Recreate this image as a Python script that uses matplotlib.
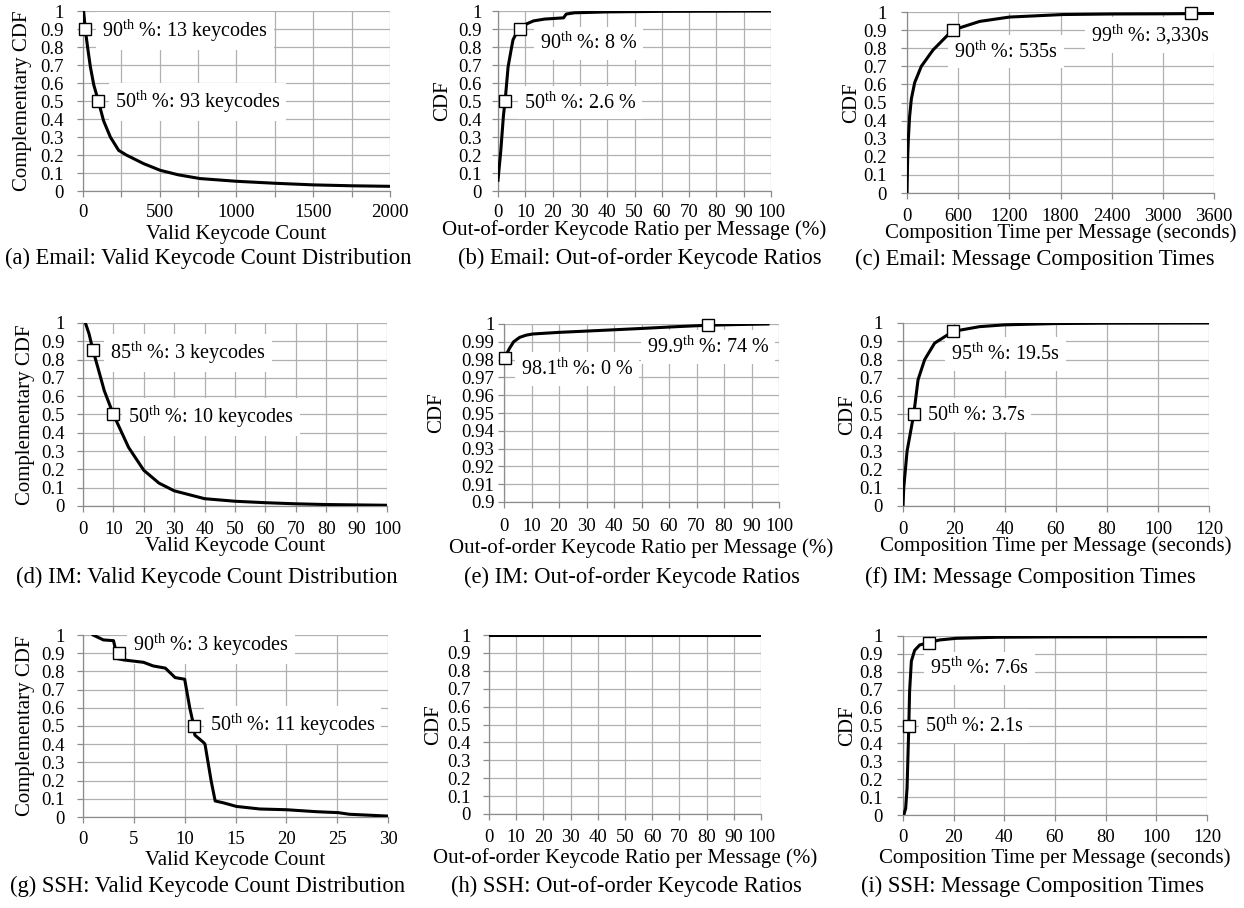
import numpy as np
import matplotlib
matplotlib.use("Agg")
import matplotlib.pyplot as plt
from matplotlib.ticker import MultipleLocator, FuncFormatter

plt.rcParams["font.family"] = "Liberation Serif"
plt.rcParams["mathtext.fontset"] = "custom"
plt.rcParams["mathtext.rm"] = "Liberation Serif"
plt.rcParams["mathtext.it"] = "Liberation Serif:italic"

FIG_W, FIG_H = 1244, 908
GRID_COLOR = "#b0b0b0"

# (a) Email: valid keycode count, complementary CDF
email_count_x = [4, 15, 22, 33, 48, 70, 100, 134, 178, 232, 282, 395, 503, 620, 763, 1000, 1250, 1500, 1750, 2000]
email_count_y = [1.0, 0.9, 0.85, 0.78, 0.69, 0.59, 0.5, 0.39, 0.3, 0.226, 0.2, 0.152, 0.115, 0.09, 0.069, 0.054, 0.043, 0.034, 0.029, 0.026]
email_count_mark_x = [15, 100]
email_count_mark_y = [0.9, 0.5]

# (b) Email: out-of-order keycode ratio CDF
email_ratio_x = [0, 1, 2, 2.6, 3.7, 5, 5.5, 6.5, 8.2, 10, 13, 17, 24, 25, 28, 40, 60, 100]
email_ratio_y = [0.06, 0.22, 0.42, 0.5, 0.69, 0.8, 0.84, 0.87, 0.9, 0.925, 0.945, 0.955, 0.962, 0.983, 0.99, 0.995, 0.998, 1.0]
email_ratio_mark_x = [2.6, 8.2]
email_ratio_mark_y = [0.5, 0.9]

# (c) Email: composition time CDF
email_time_x = [0, 4, 8, 16, 30, 51, 90, 168, 305, 535, 852, 1200, 1830, 2400, 3000, 3330, 3600]
email_time_y = [0, 0.1, 0.2, 0.3, 0.42, 0.52, 0.61, 0.7, 0.79, 0.9, 0.948, 0.972, 0.986, 0.989, 0.99, 0.991, 0.992]
email_time_mark_x = [535, 3330]
email_time_mark_y = [0.9, 0.992]

# (d) IM: valid keycode count, complementary CDF
im_count_x = [0.8, 2, 3.3, 5, 7, 10, 15, 20, 25, 30, 40, 50, 60, 70, 80, 90, 100]
im_count_y = [1.0, 0.94, 0.85, 0.75, 0.63, 0.5, 0.32, 0.195, 0.125, 0.083, 0.04, 0.026, 0.018, 0.012, 0.008, 0.006, 0.004]
im_count_mark_x = [3.3, 10]
im_count_mark_y = [0.85, 0.5]

# (e) IM: out-of-order keycode ratio CDF
im_ratio_x = [0.2, 2, 3.5, 5.7, 8, 10.5, 20, 38, 50, 62.7, 74, 85, 96]
im_ratio_y = [0.981, 0.9863, 0.99, 0.9925, 0.9937, 0.9944, 0.9953, 0.9966, 0.9975, 0.9985, 0.9993, 0.9997, 1.0]
im_ratio_mark_x = [0.2, 74]
im_ratio_mark_y = [0.981, 0.9995]

# (f) IM: composition time CDF
im_time_x = [0, 0.3, 1.6, 4.2, 5.9, 8.5, 12.4, 19.6, 30, 40, 60, 80, 120]
im_time_y = [0, 0.1, 0.3, 0.5, 0.69, 0.8, 0.89, 0.954, 0.98, 0.99, 0.997, 0.999, 1.0]
im_time_mark_x = [4.2, 19.6]
im_time_mark_y = [0.5, 0.954]

# (g) SSH: valid keycode count, complementary CDF
ssh_count_x = [1.0, 2.0, 3.0, 3.4, 4.0, 5.95, 6.9, 8.1, 9.06, 10.0, 10.5, 10.9, 11.0, 11.85, 12.0, 12.3, 12.6, 13.0, 13.8, 15.1, 17.4, 20.0, 23.0, 25.1, 26.2, 30.0]
ssh_count_y = [1.0, 0.973, 0.969, 0.87, 0.863, 0.85, 0.83, 0.818, 0.766, 0.757, 0.6, 0.5, 0.45, 0.41, 0.4, 0.3, 0.2, 0.088, 0.078, 0.058, 0.044, 0.04, 0.029, 0.024, 0.015, 0.005]
ssh_count_mark_x = [3.56, 10.9]
ssh_count_mark_y = [0.9, 0.5]

# (h) SSH: out-of-order keycode ratio CDF
ssh_ratio_x = [0, 100]
ssh_ratio_y = [1.0, 1.0]

# (i) SSH: composition time CDF
ssh_time_x = [0.3, 1.05, 1.6, 2.3, 2.6, 3.3, 4.6, 6.6, 10.2, 14.5, 21, 37, 60, 120]
ssh_time_y = [0.0, 0.037, 0.15, 0.5, 0.69, 0.86, 0.92, 0.95, 0.963, 0.978, 0.987, 0.993, 0.995, 0.996]
ssh_time_mark_x = [2.3, 10.2]
ssh_time_mark_y = [0.5, 0.963]

captions = [
    "(a) Email: Valid Keycode Count Distribution",
    "(b) Email: Out-of-order Keycode Ratios",
    "(c) Email: Message Composition Times",
    "(d) IM: Valid Keycode Count Distribution",
    "(e) IM: Out-of-order Keycode Ratios",
    "(f) IM: Message Composition Times",
    "(g) SSH: Valid Keycode Count Distribution",
    "(h) SSH: Out-of-order Keycode Ratios",
    "(i) SSH: Message Composition Times",
]

TH = r"$^{\mathrm{th}}$"

panels = [
    dict(box=(83, 11, 390, 191), x=email_count_x, y=email_count_y,
         mx=email_count_mark_x, my=email_count_mark_y,
         notes=[(f"90{TH} %: 13 keycodes", 0.062, 0.89), (f"50{TH} %: 93 keycodes", 0.104, 0.494)],
         xlim=2000, xmajor=500, xminor=250, ylim=(0, 1), ystep=0.1,
         ylabel="Complementary CDF", xlabel="Valid Keycode Count",
         ylab_dx=61, xlab_dy=44, tick_dy=22, ygap=18, cap=(208, 258)),
    dict(box=(498, 11, 771, 191), x=email_ratio_x, y=email_ratio_y,
         mx=email_ratio_mark_x, my=email_ratio_mark_y,
         notes=[(f"90{TH} %: 8 %", 0.154, 0.82), (f"50{TH} %: 2.6 %", 0.095, 0.49)],
         xlim=100, xmajor=10, xminor=10, ylim=(0, 1), ystep=0.1,
         ylabel="CDF", xlabel="Out-of-order Keycode Ratio per Message (%)",
         ylab_dx=55, xlab_dy=39, tick_dy=22, ygap=15, cap=(640, 258)),
    dict(box=(907, 12, 1214, 193), x=email_time_x, y=email_time_y,
         mx=email_time_mark_x, my=email_time_mark_y,
         notes=[(f"90{TH} %: 535s", 0.153, 0.78), (f"99{TH} %: 3,330s", 0.60, 0.873)],
         xlim=3600, xmajor=600, xminor=600, ylim=(0, 1), ystep=0.1,
         ylabel="CDF", xlabel="Composition Time per Message (seconds)",
         ylab_dx=55, xlab_dy=40, tick_dy=24, ygap=19, cap=(1035, 259)),
    dict(box=(83, 323, 387, 506), x=im_count_x, y=im_count_y,
         mx=im_count_mark_x, my=im_count_mark_y,
         notes=[(f"85{TH} %: 3 keycodes", 0.089, 0.836), (f"50{TH} %: 10 keycodes", 0.148, 0.486)],
         xlim=100, xmajor=10, xminor=10, ylim=(0, 1), ystep=0.1,
         ylabel="Complementary CDF", xlabel="Valid Keycode Count",
         ylab_dx=57, xlab_dy=40, tick_dy=24, ygap=17, cap=(207, 577)),
    dict(box=(504, 324, 779, 502), x=im_ratio_x, y=im_ratio_y,
         mx=im_ratio_mark_x, my=im_ratio_mark_y,
         notes=[(f"99.9{TH} %: 74 %", 0.52, 0.87), (f"98.1{TH} %: 0 %", 0.062, 0.747)],
         xlim=100, xmajor=10, xminor=10, ylim=(0.9, 1), ystep=0.01,
         ylabel="CDF", xlabel="Out-of-order Keycode Ratio per Message (%)",
         ylab_dx=67, xlab_dy=46, tick_dy=25, ygap=8, cap=(632, 577)),
    dict(box=(903, 323, 1209, 506), x=im_time_x, y=im_time_y,
         mx=im_time_mark_x, my=im_time_mark_y,
         notes=[(f"95{TH} %: 19.5s", 0.157, 0.83), (f"50{TH} %: 3.7s", 0.078, 0.497)],
         xlim=120, xmajor=20, xminor=20, ylim=(0, 1), ystep=0.1,
         ylabel="CDF", xlabel="Composition Time per Message (seconds)",
         ylab_dx=55, xlab_dy=40, tick_dy=24, ygap=19, cap=(1030, 577)),
    dict(box=(83, 635, 388, 817), x=ssh_count_x, y=ssh_count_y,
         mx=ssh_count_mark_x, my=ssh_count_mark_y,
         notes=[(f"90{TH} %: 3 keycodes", 0.164, 0.945), (f"50{TH} %: 11 keycodes", 0.416, 0.505)],
         xlim=30, xmajor=5, xminor=5, ylim=(0, 1), ystep=0.1,
         ylabel="Complementary CDF", xlabel="Valid Keycode Count",
         ylab_dx=57, xlab_dy=43, tick_dy=23, ygap=17, cap=(208, 886)),
    dict(box=(489, 635, 761, 814), x=ssh_ratio_x, y=ssh_ratio_y,
         mx=[], my=[], notes=[],
         xlim=100, xmajor=10, xminor=10, ylim=(0, 1), ystep=0.1,
         ylabel="CDF", xlabel="Out-of-order Keycode Ratio per Message (%)",
         ylab_dx=55, xlab_dy=44, tick_dy=24, ygap=17, cap=(626, 886)),
    dict(box=(903, 636, 1207, 815), x=ssh_time_x, y=ssh_time_y,
         mx=ssh_time_mark_x, my=ssh_time_mark_y,
         notes=[(f"95{TH} %: 7.6s", 0.089, 0.82), (f"50{TH} %: 2.1s", 0.072, 0.497)],
         xlim=120, xmajor=20, xminor=20, ylim=(0, 1), ystep=0.1,
         ylabel="CDF", xlabel="Composition Time per Message (seconds)",
         ylab_dx=55, xlab_dy=43, tick_dy=23, ygap=19, cap=(1033, 886)),
]


def y_fmt(v, pos):
    return f"{round(v, 4):g}"


def draw_panel(fig, p, caption):
    left, top, right, bottom = p["box"]
    w, h = right - left, bottom - top
    ax = fig.add_axes([left / FIG_W, 1 - bottom / FIG_H, w / FIG_W, h / FIG_H])

    ax.plot(p["x"], p["y"], color="black", lw=2.2, solid_joinstyle="round", zorder=3)
    if p["mx"]:
        ax.plot(p["mx"], p["my"], ls="none", marker="s", ms=9, mfc="white",
                mec="black", mew=1.0, zorder=5, clip_on=False)

    # white label boxes sit over the grid but under the curve
    for text, tx, ty in p["notes"]:
        ax.text(tx, ty, text, transform=ax.transAxes, fontsize=14.5,
                ha="left", va="center", zorder=2.5,
                bbox=dict(boxstyle="square,pad=0.3", fc="white", ec="none"))

    ax.set_xlim(0, p["xlim"])
    ax.set_ylim(*p["ylim"])
    ax.xaxis.set_major_locator(MultipleLocator(p["xmajor"]))
    ax.xaxis.set_minor_locator(MultipleLocator(p["xminor"]))
    ax.yaxis.set_major_locator(MultipleLocator(p["ystep"]))
    ax.yaxis.set_major_formatter(FuncFormatter(y_fmt))

    ax.grid(True, which="both", color=GRID_COLOR, lw=0.9, zorder=0)
    ax.set_axisbelow(True)
    for side in ["top", "right"]:
        ax.spines[side].set_visible(False)
    for side in ["left", "bottom"]:
        ax.spines[side].set_color("#8c8c8c")
        ax.spines[side].set_linewidth(0.9)

    ax.tick_params(axis="both", which="both", direction="out", length=4,
                   color="#8c8c8c", width=0.9, labelsize=13.5)
    ax.tick_params(axis="y", pad=(p["ygap"] - 4) * 0.72)
    ax.tick_params(axis="x", pad=(p["tick_dy"] - 10) * 0.72 - 3)

    ax.set_ylabel(p["ylabel"], fontsize=15)
    ax.yaxis.set_label_coords(-p["ylab_dx"] / w, 0.5)
    ax.yaxis.label.set_va("center")
    ax.set_xlabel(p["xlabel"], fontsize=15)
    ax.xaxis.set_label_coords(0.5, -p["xlab_dy"] / h)
    ax.xaxis.label.set_va("center")

    cx, cy = p["cap"]
    fig.text(cx / FIG_W, 1 - cy / FIG_H, caption, fontsize=16.3,
             ha="center", va="center")


def main():
    fig = plt.figure(figsize=(FIG_W / 100, FIG_H / 100), dpi=100)
    for p, caption in zip(panels, captions):
        draw_panel(fig, p, caption)
    fig.savefig("out.png", dpi=100, facecolor="white")
    plt.close(fig)


if __name__ == "__main__":
    main()
